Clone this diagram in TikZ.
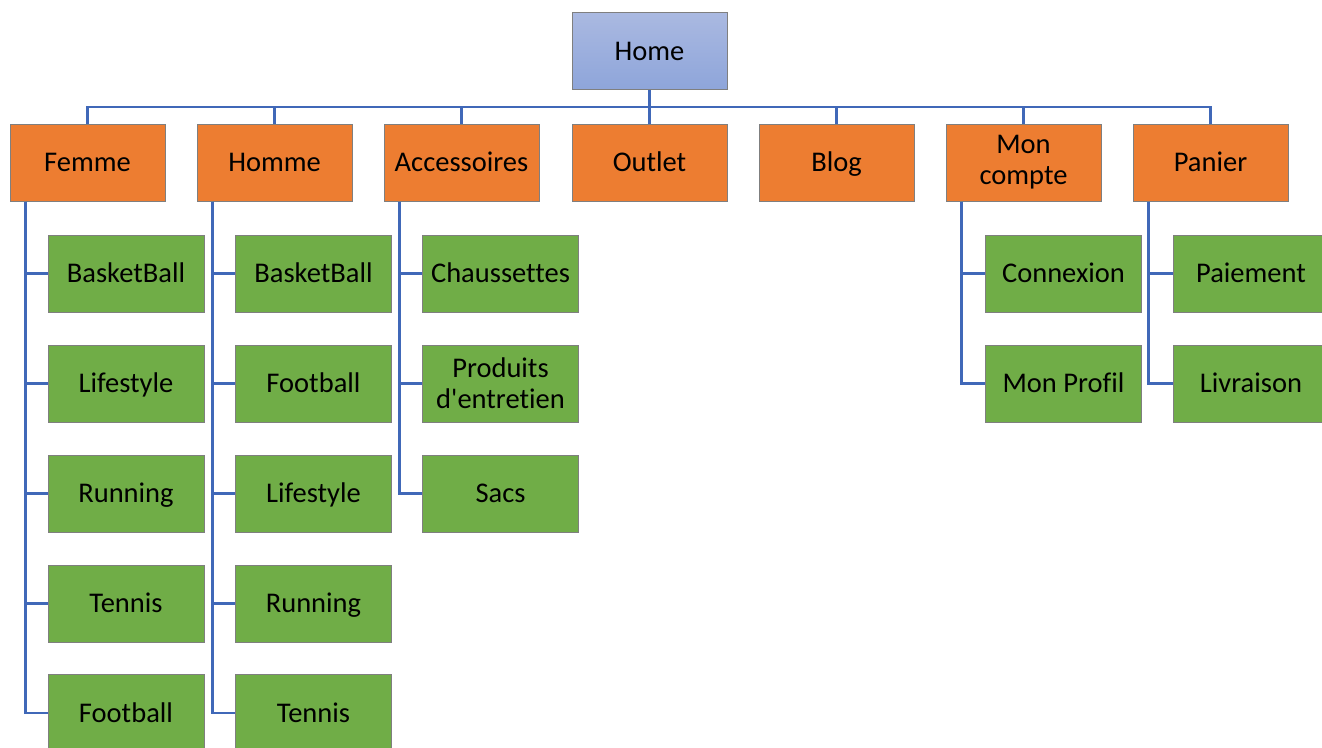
\documentclass[tikz,border=0pt]{standalone}
\usepackage{fontspec}
\setmainfont{Carlito}[Ligatures={NoCommon}]
\usetikzlibrary{calc}
\definecolor{orng}{HTML}{ED7D31}
\definecolor{grn}{HTML}{70AD47}
\definecolor{conncol}{HTML}{4068B8}
\definecolor{boxline}{HTML}{7F7F7F}
\definecolor{hometop}{HTML}{AAB9E1}
\definecolor{homebot}{HTML}{8EA5DA}
\tikzset{
  base/.style={draw=boxline, line width=1pt, minimum width=155pt, minimum height=77pt, inner sep=0pt, align=center, font=\fontsize{28.5}{32}\selectfont, text=black, text height=24pt, text depth=6pt},
  twoline/.style={text height={}, text depth={}},
  homebox/.style={base, top color=hometop, bottom color=homebot},
  catbox/.style={base, fill=orng},
  leafbox/.style={base, fill=grn, minimum width=156pt},
  conn/.style={draw=conncol, line width=2.5pt}
}
\begin{document}
\begin{tikzpicture}[x=1pt,y=-1pt]
\useasboundingbox (0,0) rectangle (1322,747);
\node[homebox] (home) at (649.5,51) {Home};
\node[catbox] (femme) at (87.5,162.5) {Femme};
\node[catbox] (homme) at (274.5,162.5) {Homme};
\node[catbox] (acc) at (461.5,162.5) {Accessoires};
\node[catbox] (outlet) at (649.5,162.5) {Outlet};
\node[catbox] (blog) at (836.5,162.5) {Blog};
\node[catbox, twoline] (compte) at (1023.5,162.5) {Mon\\[-1pt]compte};
\node[catbox] (panier) at (1210.5,162.5) {Panier};
% leaves
\node[leafbox] (f1) at (126,273.5) {BasketBall};
\node[leafbox] (f2) at (126,383.5) {Lifestyle};
\node[leafbox] (f3) at (126,493.5) {Running};
\node[leafbox] (f4) at (126,603.5) {Tennis};
\node[leafbox] (f5) at (126,713) {Football};
\node[leafbox] (h1) at (313.5,273.5) {BasketBall};
\node[leafbox] (h2) at (313.5,383.5) {Football};
\node[leafbox] (h3) at (313.5,493.5) {Lifestyle};
\node[leafbox] (h4) at (313.5,603.5) {Running};
\node[leafbox] (h5) at (313.5,713) {Tennis};
\node[leafbox] (a1) at (500.5,273.5) {Chaussettes};
\node[leafbox, twoline] (a2) at (500.5,383.5) {Produits\\[-1pt]d\textquotesingle entretien};
\node[leafbox] (a3) at (500.5,493.5) {Sacs};
\node[leafbox] (c1) at (1063.5,273.5) {Connexion};
\node[leafbox] (c2) at (1063.5,383.5) {Mon Profil};
\node[leafbox] (p1) at (1251,273.5) {Paiement};
\node[leafbox] (p2) at (1251,383.5) {Livraison};
% bus
\foreach \c in {femme,homme,acc,outlet,blog,compte,panier}
  \draw[conn] (home.south) -- ++(0,17) -| (\c.north);
% drops
\foreach \p/\l in {femme/f1,femme/f2,femme/f3,femme/f4,femme/f5,
                   homme/h1,homme/h2,homme/h3,homme/h4,homme/h5,
                   acc/a1,acc/a2,acc/a3,
                   compte/c1,compte/c2,
                   panier/p1,panier/p2}
  \draw[conn] ($(\p.south west)+(16,0)$) |- (\l.west);
\end{tikzpicture}
\end{document}
